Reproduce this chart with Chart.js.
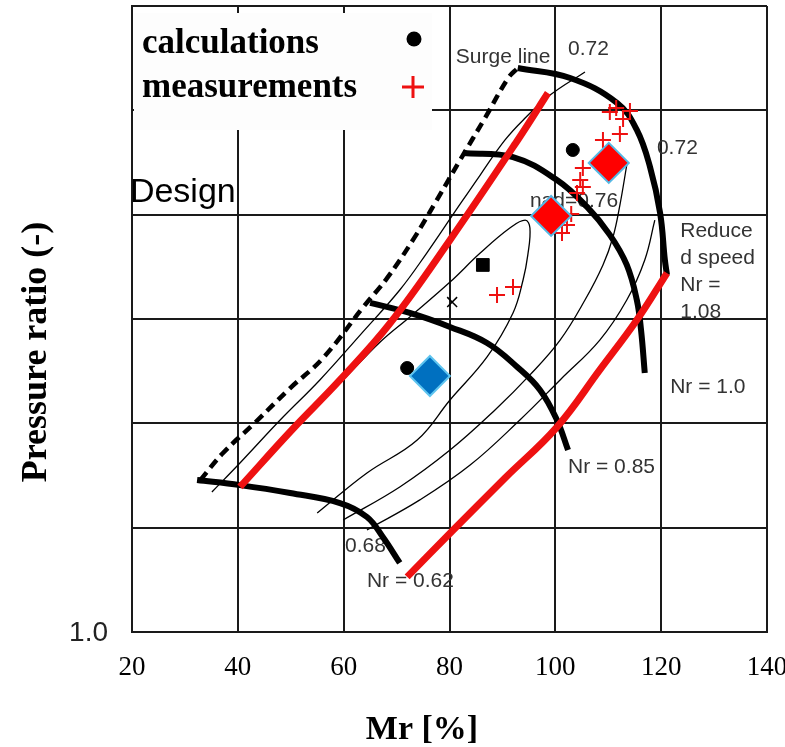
<!DOCTYPE html>
<html>
<head>
<meta charset="utf-8">
<script src="https://cdn.jsdelivr.net/npm/chart.js@4/dist/chart.umd.min.js"></script>
<style>
  html, body { margin: 0; padding: 0; background: #fff; }
  canvas { display: block; }
</style>
</head>
<body>
<canvas id="map" width="785" height="747"></canvas>
<script>
// Compressor map: reduced mass flow Mr [%] vs pressure ratio (-)
const xTicks = [20, 40, 60, 80, 100, 120, 140];
const yTickLabel = '1.0';

// surge line (dashed)
const surgeMr = [32.9, 37.2, 43.2, 49.9, 56.1, 63.7, 68.2, 73.1, 77.6, 82.0, 86.7, 91.1, 92.9];
const surgePr = [1.728, 1.858, 2.002, 2.169, 2.313, 2.557, 2.696, 2.879, 3.070, 3.262, 3.463, 3.655, 3.703];

// reduced speed lines
const nr062Mr = [32.3, 40.4, 49.9, 59.3, 64.4, 67.4, 70.6];
const nr062Pr = [1.728, 1.704, 1.666, 1.618, 1.551, 1.455, 1.331];
const nr085Mr = [65.0, 72.5, 80.1, 87.1, 92.8, 97.1, 100.3, 102.4];
const nr085Pr = [2.577, 2.529, 2.462, 2.385, 2.270, 2.160, 2.016, 1.872];
const nr100Mr = [82.55, 92.0, 100.3, 106.0, 110.3, 113.5, 115.4, 116.2, 116.9];
const nr100Pr = [3.295, 3.276, 3.166, 3.037, 2.903, 2.759, 2.591, 2.447, 2.241];
const nr108Mr = [92.9, 102.8, 111.7, 115.4, 117.9, 119.8, 120.7, 121.1];
const nr108Pr = [3.703, 3.655, 3.535, 3.406, 3.228, 3.008, 2.783, 2.711];

// red operating lines
const opLowMr = [40.4, 50.2, 59.3, 68.8, 80.1, 92.9, 98.6];
const opLowPr = [1.695, 1.968, 2.208, 2.481, 2.879, 3.358, 3.583];
const opHighMr = [72.0, 80.7, 90.5, 100.3, 108.4, 115.4, 121.1];
const opHighPr = [1.264, 1.489, 1.738, 1.982, 2.256, 2.495, 2.720];

// efficiency contours (thin)
const effOuterMr = [35.1, 40.4, 48.0, 55.5, 63.1, 70.6, 75.7, 81.0, 85.8, 90.5, 94.3, 99.0, 105.6];
const effOuterPr = [1.671, 1.810, 2.016, 2.208, 2.423, 2.639, 2.816, 3.013, 3.190, 3.358, 3.463, 3.573, 3.684];
const effIslandMr = [60.25, 66.9, 72.5, 80.1, 85.8, 91.4, 94.3, 95.2, 94.8, 93.9, 92.0, 87.1, 80.1, 73.9, 64.4, 55.0];
const effIslandPr = [2.217, 2.390, 2.510, 2.677, 2.816, 2.936, 2.974, 2.936, 2.807, 2.687, 2.529, 2.318, 2.112, 1.920, 1.762, 1.570];
const effMidMr = [59.9, 70.6, 80.1, 88.6, 95.2, 100.9, 105.6, 109.0, 110.9, 112.2, 113.5];
const effMidPr = [1.537, 1.695, 1.872, 2.064, 2.232, 2.399, 2.591, 2.759, 2.893, 3.046, 3.238];
const effRightMr = [64.4, 74.4, 83.9, 93.3, 100.9, 108.4, 113.5, 116.9, 118.8];
const effRightPr = [1.489, 1.633, 1.800, 2.016, 2.208, 2.399, 2.591, 2.783, 2.974];

// points
const calcMr = [72.0, 103.3];
const calcPr = [2.265, 3.310];
const squareMr = [86.3];
const squarePr = [2.759];
const xMarkMr = [80.5];
const xMarkPr = [2.581];
const measMr = [88.98, 92.0, 101.26, 102.2, 103.0, 104.1, 105.2, 104.7, 105.2, 109.0, 112.2, 110.3, 111.5, 112.8, 114.1];
const measPr = [2.615, 2.653, 2.912, 2.950, 3.003, 3.104, 3.133, 3.166, 3.224, 3.358, 3.387, 3.492, 3.511, 3.458, 3.497];
const designMr = [76.3];
const designPr = [2.227];
const redPointMr = [99.2, 110.1];
const redPointPr = [2.994, 3.248];

const zip = (xs, ys) => xs.map((x, i) => ({ x: x, y: ys[i] }));

function lineSet(xs, ys, color, width, dash) {
  return {
    data: zip(xs, ys),
    showLine: true,
    borderColor: color,
    borderWidth: width,
    borderDash: dash || [],
    borderCapStyle: 'butt',
    pointRadius: 0,
    tension: 0.4,
    fill: false
  };
}

function pointSet(xs, ys, style, radius, fill, border, bw) {
  return {
    data: zip(xs, ys),
    showLine: false,
    pointStyle: style,
    pointRadius: radius,
    pointBackgroundColor: fill,
    pointBorderColor: border,
    pointBorderWidth: bw
  };
}

const RED = '#ee1111';

// text labels on the map, in data coordinates
const annotations = [
  { text: 'Surge line', mr: 81.2, pr: 3.727 },
  { text: '0.72', mr: 102.4, pr: 3.765 },
  { text: '0.72', mr: 119.2, pr: 3.291 },
  { text: 'ηad=0.76', mr: 95.2, pr: 3.037 },
  { text: 'Reduce', mr: 123.6, pr: 2.893 },
  { text: 'd speed', mr: 123.6, pr: 2.764 },
  { text: 'Nr =', mr: 123.6, pr: 2.635 },
  { text: '1.08', mr: 123.6, pr: 2.505 },
  { text: 'Nr = 1.0', mr: 121.7, pr: 2.145 },
  { text: 'Nr = 0.85', mr: 102.4, pr: 1.762 },
  { text: '0.68', mr: 60.25, pr: 1.383 },
  { text: 'Nr = 0.62', mr: 64.4, pr: 1.216 }
];

// keep tick labels from pushing the plot area inwards
function noPadding(scale) {
  scale.paddingLeft = 0;
  scale.paddingRight = 0;
  scale.paddingTop = 0;
  scale.paddingBottom = 0;
}

const mapDecor = {
  id: 'mapDecor',
  beforeDraw(chart) {
    const ctx = chart.ctx;
    ctx.save();
    ctx.fillStyle = '#fff';
    ctx.fillRect(0, 0, chart.width, chart.height);
    ctx.restore();
  },
  beforeDatasetsDraw(chart) {
    const { ctx, chartArea: a, scales } = chart;
    ctx.save();
    // legend box over the top-left corner
    ctx.fillStyle = '#fdfdfd';
    ctx.fillRect(a.left + 2, a.top + 7, 298, 117);
    ctx.fillStyle = '#000';
    ctx.font = 'bold 35px "Liberation Serif", "Times New Roman", serif';
    ctx.textAlign = 'left';
    ctx.textBaseline = 'alphabetic';
    ctx.fillText('calculations', a.left + 10, a.top + 47);
    ctx.fillText('measurements', a.left + 10, a.top + 91);
    ctx.beginPath();
    ctx.arc(a.left + 282, a.top + 33, 7.5, 0, Math.PI * 2);
    ctx.fill();
    ctx.strokeStyle = RED;
    ctx.lineWidth = 3;
    ctx.beginPath();
    ctx.moveTo(a.left + 270, a.top + 81);
    ctx.lineTo(a.left + 292, a.top + 81);
    ctx.moveTo(a.left + 281, a.top + 70);
    ctx.lineTo(a.left + 281, a.top + 92);
    ctx.stroke();

    // Design
    ctx.fillStyle = '#000';
    ctx.font = '34px "Liberation Sans", Arial, sans-serif';
    ctx.fillText('Design', scales.x.getPixelForValue(19.6), scales.y.getPixelForValue(3.061));

    // map labels
    ctx.fillStyle = '#333';
    ctx.font = '21px "Liberation Sans", Arial, sans-serif';
    annotations.forEach(l => {
      ctx.fillText(l.text, scales.x.getPixelForValue(l.mr), scales.y.getPixelForValue(l.pr));
    });
    ctx.restore();
  },
  afterDraw(chart) {
    const { ctx, chartArea: a } = chart;
    ctx.save();
    ctx.fillStyle = '#222';
    ctx.font = '28px "Liberation Sans", Arial, sans-serif';
    ctx.textAlign = 'right';
    ctx.textBaseline = 'middle';
    ctx.fillText(yTickLabel, a.left - 24, a.bottom + 1);

    ctx.fillStyle = '#000';
    ctx.font = 'bold 34px "Liberation Serif", "Times New Roman", serif';
    ctx.textAlign = 'center';
    ctx.textBaseline = 'alphabetic';
    ctx.fillText('Mr [%]', 422, 739);
    ctx.font = 'bold 36px "Liberation Serif", "Times New Roman", serif';
    ctx.translate(46, 352);
    ctx.rotate(-Math.PI / 2);
    ctx.fillText('Pressure ratio (-)', 0, 0);
    ctx.restore();
  }
};

const ctx = document.getElementById('map').getContext('2d');
new Chart(ctx, {
  type: 'scatter',
  data: {
    datasets: [
      pointSet(redPointMr, redPointPr, 'rectRot', 20, '#ff0000', '#55b9e6', 2),
      pointSet(designMr, designPr, 'rectRot', 20, '#0070c0', '#5ec4ef', 2),
      pointSet(calcMr, calcPr, 'circle', 6.5, '#000', '#000', 1),
      pointSet(squareMr, squarePr, 'rect', 9, '#000', '#000', 1),
      pointSet(xMarkMr, xMarkPr, 'crossRot', 7, '#000', '#000', 1.5),
      pointSet(measMr, measPr, 'cross', 8, RED, RED, 2),
      lineSet(opLowMr, opLowPr, RED, 7),
      lineSet(opHighMr, opHighPr, RED, 7),
      lineSet(nr062Mr, nr062Pr, '#000', 6),
      lineSet(nr085Mr, nr085Pr, '#000', 6),
      lineSet(nr100Mr, nr100Pr, '#000', 6),
      lineSet(nr108Mr, nr108Pr, '#000', 6),
      lineSet(surgeMr, surgePr, '#000', 4.5, [10, 6]),
      lineSet(effOuterMr, effOuterPr, '#000', 1.3),
      lineSet(effIslandMr, effIslandPr, '#000', 1.3),
      lineSet(effMidMr, effMidPr, '#000', 1.3),
      lineSet(effRightMr, effRightPr, '#000', 1.3)
    ]
  },
  options: {
    responsive: false,
    animation: false,
    devicePixelRatio: 1,
    layout: { autoPadding: false, padding: { top: 6, right: 18, left: 0, bottom: 0 } },
    plugins: {
      legend: { display: false },
      tooltip: { enabled: false }
    },
    scales: {
      x: {
        type: 'linear',
        min: 20,
        max: 140,
        afterBuildTicks: scale => { scale.ticks = xTicks.map(v => ({ value: v })); },
        afterFit: scale => { scale.height = 115; noPadding(scale); },
        grid: { color: '#1a1a1a', lineWidth: 2, drawTicks: false },
        border: { color: '#1a1a1a', width: 2 },
        ticks: {
          autoSkip: false,
          maxRotation: 0,
          padding: 20,
          color: '#000',
          font: { family: '"Liberation Serif", "Times New Roman", serif', size: 27 }
        }
      },
      y: {
        type: 'linear',
        min: 1,
        max: 4,
        afterFit: scale => { scale.width = 132; noPadding(scale); },
        grid: { color: '#1a1a1a', lineWidth: 2, drawTicks: false },
        border: { color: '#1a1a1a', width: 2 },
        ticks: { stepSize: 0.5, display: false }
      }
    }
  },
  plugins: [mapDecor]
});
</script>
</body>
</html>
